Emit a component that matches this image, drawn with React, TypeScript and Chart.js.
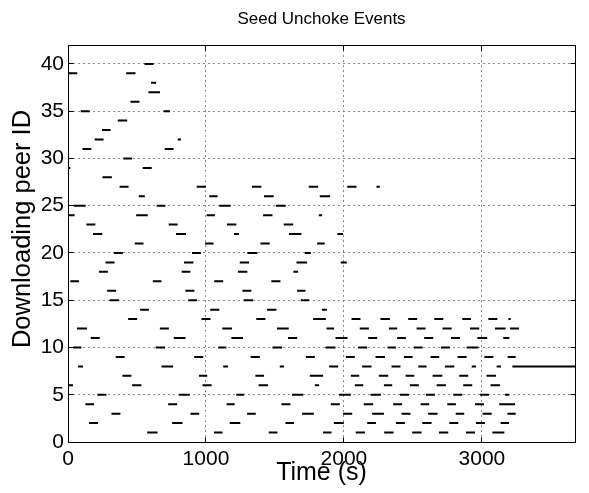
import { useEffect, useRef } from "react";
import { Chart, registerables } from "chart.js";

Chart.register(...registerables);

// ---- data ----
const titleText = "Seed Unchoke Events";
const xAxisLabel = "Time (s)";
const yAxisLabel = "Downloading peer ID";
const xTickValues = [0, 1000, 2000, 3000];
const yTickValues = [0, 5, 10, 15, 20, 25, 30, 35, 40];
const xMax = 3675;
const yMax = 42;

const peerIds = Array.from({ length: 40 }, (_, i) => i + 1);

// unchoke intervals [start, end] in seconds for each peer (index = peer - 1)
const unchokeIntervals: [number, number][][] = [
  /* 1 */ [[574, 649], [1058, 1120], [1455, 1518], [1849, 1910], [2086, 2152], [2292, 2360], [2495, 2563], [2689, 2756], [2885, 2950], [3076, 3163]],
  /* 2 */ [[152, 218], [755, 830], [1172, 1249], [1576, 1639], [1927, 1999], [2169, 2232], [2377, 2442], [2568, 2635], [2764, 2829], [2957, 3022], [3136, 3197]],
  /* 3 */ [[315, 380], [888, 951], [1298, 1361], [1697, 1782], [1994, 2060], [2205, 2290], [2418, 2483], [2611, 2679], [2810, 2872], [3005, 3071], [3185, 3245]],
  /* 4 */ [[126, 189], [726, 791], [1150, 1208], [1547, 1612], [1905, 1970], [2144, 2212], [2357, 2422], [2556, 2618], [2749, 2812], [2950, 3015], [3126, 3180], [3178, 3240]],
  /* 5 */ [[213, 278], [803, 883], [1220, 1276], [1624, 1704], [1965, 2050], [2193, 2268], [2406, 2471], [2594, 2660], [2793, 2858], [2986, 3051], [3168, 3199]],
  /* 6 */ [[0, 36], [465, 532], [975, 1041], [1382, 1450], [1789, 1820], [2079, 2140], [2290, 2350], [2478, 2543], [2672, 2739], [2865, 2930], [3063, 3131]],
  /* 7 */ [[394, 460], [949, 1009], [1358, 1421], [1753, 1849], [2050, 2111], [2253, 2321], [2447, 2510], [2643, 2713], [2836, 2901], [3034, 3102]],
  /* 8 */ [[73, 109], [678, 762], [1125, 1160], [1535, 1566], [1893, 1958], [2132, 2200], [2345, 2410], [2539, 2599], [2732, 2800], [2926, 2957], [3107, 3139], [3221, 3675]],
  /* 9 */ [[346, 411], [915, 980], [1324, 1390], [1724, 1789], [2014, 2079], [2229, 2297], [2435, 2498], [2628, 2691], [2824, 2889], [3018, 3083], [3187, 3245]],
  /* 10 */ [[36, 97], [636, 704], [1089, 1148], [1482, 1552], [1866, 1939], [2103, 2169], [2316, 2377], [2507, 2570], [2703, 2768], [2889, 2974]],
  /* 11 */ [[165, 230], [767, 852], [1184, 1269], [1595, 1661], [1939, 2026], [2176, 2241], [2386, 2449], [2582, 2647], [2776, 2841], [2967, 3039], [3155, 3199]],
  /* 12 */ [[65, 138], [666, 731], [1118, 1189], [1515, 1600], [1874, 1929], [2115, 2181], [2326, 2386], [2527, 2592], [2715, 2781], [2914, 2981], [3095, 3172], [3204, 3269]],
  /* 13 */ [[436, 501], [968, 1033], [1365, 1431], [1777, 1869], [2055, 2120], [2265, 2333], [2466, 2531], [2655, 2720], [2858, 2921], [3047, 3112], [3192, 3209]],
  /* 14 */ [[523, 586], [1031, 1097], [1443, 1511], [1840, 1876]],
  /* 15 */ [[301, 369], [872, 935], [1274, 1341], [1687, 1748]],
  /* 16 */ [[284, 349], [851, 916], [1264, 1329], [1661, 1721]],
  /* 17 */ [[17, 80], [615, 677], [1060, 1125], [1474, 1540]],
  /* 18 */ [[224, 289], [824, 887], [1232, 1300], [1634, 1668]],
  /* 19 */ [[272, 337], [841, 909], [1245, 1312], [1656, 1733], [1977, 2021]],
  /* 20 */ [[333, 398], [899, 964], [1300, 1373], [1716, 1760]],
  /* 21 */ [[484, 547], [993, 1055], [1395, 1462], [1806, 1861]],
  /* 22 */ [[181, 248], [783, 855], [1203, 1240], [1602, 1692], [1953, 1994]],
  /* 23 */ [[133, 198], [730, 795], [1152, 1220], [1564, 1632]],
  /* 24 */ [[5, 48], [494, 578], [1005, 1065], [1414, 1482], [1818, 1842]],
  /* 25 */ [[41, 128], [643, 706], [1096, 1179], [1506, 1578]],
  /* 26 */ [[513, 557], [1024, 1084], [1421, 1491], [1825, 1900]],
  /* 27 */ [[374, 439], [933, 1000], [1334, 1402], [1745, 1813], [2024, 2091], [2236, 2260]],
  /* 28 */ [[250, 318]],
  /* 29 */ [[0, 17], [542, 607]],
  /* 30 */ [[402, 465]],
  /* 31 */ [[104, 169], [701, 766]],
  /* 32 */ [[193, 258], [795, 819]],
  /* 33 */ [[246, 308]],
  /* 34 */ [[361, 429]],
  /* 35 */ [[92, 157], [692, 740]],
  /* 36 */ [[453, 518]],
  /* 37 */ [[583, 667]],
  /* 38 */ [[602, 639]],
  /* 39 */ [[0, 67], [422, 489]],
  /* 40 */ [[555, 620]],
];

const FONT = "'Liberation Sans', Arial, Helvetica, sans-serif";

const matlabAxes = {
  id: "matlabAxes",
  afterDatasetsDraw(chart: any) {
    const { ctx, chartArea, scales } = chart;
    const { left, right, top, bottom } = chartArea;
    const L = Math.round(left - 0.5) + 0.5;
    const R = Math.round(right - 0.5) + 0.5;
    const T = Math.round(top - 0.5) + 0.5;
    const B = Math.round(bottom - 0.5) + 0.5;
    ctx.save();
    ctx.strokeStyle = "#000";
    ctx.lineWidth = 1;
    ctx.strokeRect(L, T, R - L, B - T);
    const len = 5;
    ctx.beginPath();
    scales.x.ticks.forEach((t: any) => {
      const px = Math.round(scales.x.getPixelForValue(t.value) - 0.5) + 0.5;
      ctx.moveTo(px, B);
      ctx.lineTo(px, B - len);
      ctx.moveTo(px, T);
      ctx.lineTo(px, T + len);
    });
    scales.y.ticks.forEach((t: any) => {
      const py = Math.round(scales.y.getPixelForValue(t.value) - 0.5) + 0.5;
      ctx.moveTo(L, py);
      ctx.lineTo(L + len, py);
      ctx.moveTo(R, py);
      ctx.lineTo(R - len, py);
    });
    ctx.stroke();

    // y-axis label (rotated), placed like the reference
    ctx.fillStyle = "#000";
    ctx.font = `25.5px ${FONT}`;
    ctx.textAlign = "center";
    ctx.textBaseline = "middle";
    ctx.translate(23, 229);
    ctx.rotate(-Math.PI / 2);
    ctx.fillText(yAxisLabel, 0, 0);
    ctx.restore();
  },
};

export default function App() {
  const canvasRef = useRef<HTMLCanvasElement | null>(null);

  useEffect(() => {
    const canvas = canvasRef.current;
    if (!canvas) return;
    const points: { x: number; y: number | null }[] = [];
    peerIds.forEach((peer, i) => {
      (unchokeIntervals[i] || []).forEach(([s, e]) => {
        points.push({ x: s, y: peer });
        points.push({ x: e, y: peer });
        points.push({ x: e, y: null });
      });
    });

    const chart = new Chart(canvas, {
      type: "line",
      data: {
        datasets: [
          {
            data: points as any,
            borderColor: "#000",
            borderWidth: 2,
            pointRadius: 0,
            pointHoverRadius: 0,
            spanGaps: false,
            tension: 0,
            borderCapStyle: "butt",
          },
        ],
      },
      options: {
        animation: false,
        responsive: false,
        devicePixelRatio: 1,
        events: [],
        layout: { padding: { left: 0, right: 14, top: 0, bottom: 0 } },
        plugins: {
          legend: { display: false },
          tooltip: { enabled: false },
          title: {
            display: true,
            fullSize: false,
            text: titleText,
            color: "#000",
            font: { family: FONT, size: 17, weight: "normal", lineHeight: 1 },
            padding: { top: 11, bottom: 17 },
          },
        },
        scales: {
          x: {
            type: "linear",
            min: 0,
            max: xMax,
            afterBuildTicks: (scale: any) => {
              scale.ticks = xTickValues.map((v) => ({ value: v }));
            },
            afterFit: (scale: any) => {
              scale.height = 51;
            },
            grid: { color: "#8a8a8a", lineWidth: 1, drawTicks: false },
            border: { display: false, dash: [2, 3] },
            ticks: {
              color: "#000",
              padding: 5,
              maxRotation: 0,
              autoSkip: false,
              font: { family: FONT, size: 21 },
              callback: (v: any) => String(v),
            },
            title: {
              display: true,
              text: xAxisLabel,
              color: "#000",
              font: { family: FONT, size: 25, lineHeight: 1 },
              padding: { top: 0, bottom: 7 },
            },
          },
          y: {
            type: "linear",
            min: 0,
            max: yMax,
            afterBuildTicks: (scale: any) => {
              scale.ticks = yTickValues.map((v) => ({ value: v }));
            },
            afterFit: (scale: any) => {
              scale.width = 68;
            },
            grid: { color: "#8a8a8a", lineWidth: 1, drawTicks: false },
            border: { display: false, dash: [2, 3] },
            ticks: {
              color: "#000",
              padding: 4,
              autoSkip: false,
              font: { family: FONT, size: 21 },
              callback: (v: any) => String(v),
            },
            title: { display: false },
          },
        },
      },
      plugins: [matlabAxes],
    });
    return () => chart.destroy();
  }, []);

  return (
    <div style={{ position: "absolute", left: 0, top: 0, width: 589, height: 493, background: "#fff" }}>
      <canvas ref={canvasRef} width={589} height={493} />
    </div>
  );
}
